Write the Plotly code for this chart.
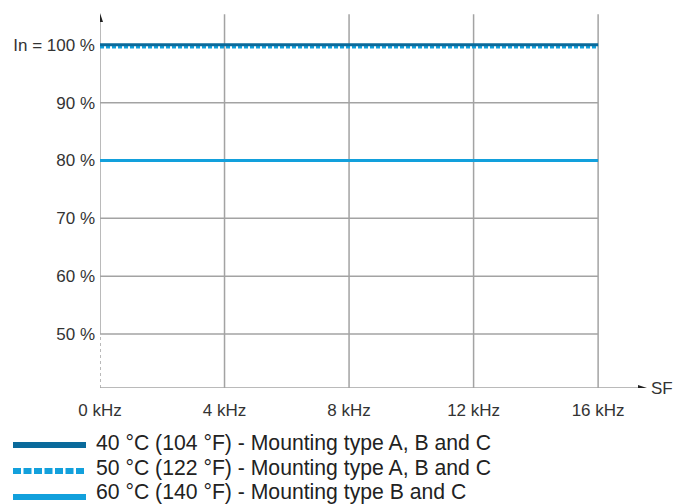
import plotly.graph_objects as go

# ---- data ----
freq_khz = [0, 16]
series_names = [
    "40 °C (104 °F) - Mounting type A, B and C",
    "50 °C (122 °F) - Mounting type A, B and C",
    "60 °C (140 °F) - Mounting type B and C",
]
current_40c = [100, 100]
current_50c = [99.6, 99.6]
current_60c = [80, 80]
x_tick_vals = [0, 4, 8, 12, 16]
x_tick_text = ["0 kHz", "4 kHz", "8 kHz", "12 kHz", "16 kHz"]
y_tick_vals = [50, 60, 70, 80, 90, 100]
y_tick_text = ["50 %", "60 %", "70 %", "80 %", "90 %", "In = 100 %"]
x_axis_title = "SF"

# ---- styles ----
DARK = "#0a6a9b"
LIGHT = "#12a0dc"
GRID = "#a3a3a3"
TXT = "#333333"
FONT = "Arial, Liberation Sans, sans-serif"

W, H = 677, 504
ML, MR, MT, MB = 100, 30, 13, 116
XMAX = 17.57
YMIN, YMAX = 40.66, 105.5

fig = go.Figure()
fig.add_trace(go.Scatter(x=freq_khz, y=current_50c, mode="lines", name=series_names[1],
                         line=dict(color=LIGHT, width=3, dash="4px,2px")))
fig.add_trace(go.Scatter(x=freq_khz, y=current_40c, mode="lines", name=series_names[0],
                         line=dict(color=DARK, width=3)))
fig.add_trace(go.Scatter(x=freq_khz, y=current_60c, mode="lines", name=series_names[2],
                         line=dict(color=LIGHT, width=3)))

shapes = []
# horizontal gridlines
for v in y_tick_vals[:-1]:
    shapes.append(dict(type="line", xref="x", yref="y", x0=0, x1=x_tick_vals[-1], y0=v, y1=v,
                       line=dict(color=GRID, width=1.5), layer="below"))
# vertical gridlines
for v in x_tick_vals[1:]:
    shapes.append(dict(type="line", xref="x", yref="y", x0=v, x1=v, y0=YMIN, y1=YMAX - 0.2,
                       line=dict(color=GRID, width=1.5), layer="below"))
# x axis line
shapes.append(dict(type="line", xref="x", yref="y", x0=0, x1=XMAX - 0.2, y0=YMIN, y1=YMIN,
                   line=dict(color=GRID, width=1.5), layer="below"))
# y axis: solid above 50, dashed below
shapes.append(dict(type="line", xref="x", yref="y", x0=0, x1=0, y0=y_tick_vals[0], y1=YMAX - 1,
                   line=dict(color=GRID, width=1.5), layer="below"))
shapes.append(dict(type="line", xref="x", yref="y", x0=0, x1=0, y0=YMIN, y1=y_tick_vals[0],
                   line=dict(color=GRID, width=1.5, dash="3px,3px"), layer="below"))
# arrowheads
shapes.append(dict(type="path", xref="x", yref="y", xsizemode="pixel", ysizemode="pixel",
                   xanchor=0, yanchor=YMAX, path="M-3,-9 L3,-9 L0,0 Z",
                   fillcolor="#222222", line=dict(width=0)))
shapes.append(dict(type="path", xref="x", yref="y", xsizemode="pixel", ysizemode="pixel",
                   xanchor=XMAX, yanchor=YMIN, path="M0,0 L-9,3 L-9,-3 Z",
                   fillcolor="#222222", line=dict(width=0)))

annotations = [dict(x=XMAX, y=YMIN, xref="x", yref="y", text=x_axis_title, showarrow=False,
                    xanchor="left", yanchor="middle", xshift=2,
                    font=dict(family=FONT, size=17, color=TXT))]

# manual legend below the chart
pw, ph = W - ML - MR, H - MT - MB
def px(p):
    return (p - ML) / pw
def py(q):
    return (H - MB - q) / ph

legend_styles = [
    dict(color=DARK, width=6),
    dict(color=LIGHT, width=6, dash="8px,2.5px"),
    dict(color=LIGHT, width=6),
]
legend_line_rows = [445, 471, 497]
legend_text_rows = [443, 468, 492]
for name, st, lrow, trow in zip(series_names, legend_styles, legend_line_rows, legend_text_rows):
    shapes.append(dict(type="line", xref="paper", yref="paper", x0=px(13), x1=px(86),
                       y0=py(lrow), y1=py(lrow), line=st))
    annotations.append(dict(xref="paper", yref="paper", x=px(94), y=py(trow), text=name,
                            showarrow=False, xanchor="left", yanchor="middle",
                            font=dict(family=FONT, size=21.2, color="#222222")))

fig.update_layout(
    width=W, height=H,
    margin=dict(l=ML, r=MR, t=MT, b=MB, pad=0),
    paper_bgcolor="white", plot_bgcolor="white",
    showlegend=False,
    shapes=shapes, annotations=annotations,
    font=dict(family=FONT, size=17, color=TXT),
    xaxis=dict(range=[0, XMAX], tickvals=x_tick_vals, ticktext=x_tick_text,
               showgrid=False, zeroline=False, showline=False, ticks="",
               ticklabelstandoff=10, tickfont=dict(family=FONT, size=17, color=TXT)),
    yaxis=dict(range=[YMIN, YMAX], tickvals=y_tick_vals, ticktext=y_tick_text,
               showgrid=False, zeroline=False, showline=False, ticks="",
               ticklabelstandoff=4, tickfont=dict(family=FONT, size=17, color=TXT)),
)

fig.write_html("out.html", config={"displayModeBar": False},
               post_script="document.body.style.margin='0';document.body.style.overflow='hidden';")
